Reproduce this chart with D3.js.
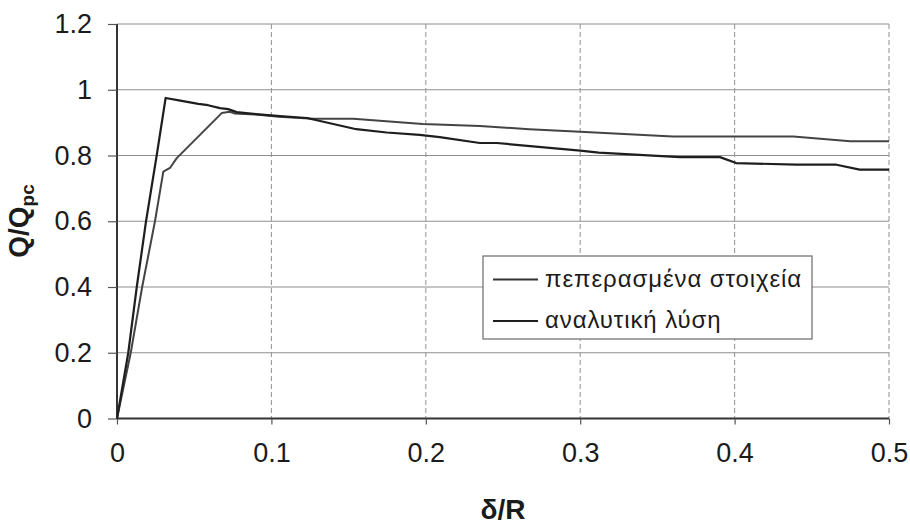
<!DOCTYPE html>
<html>
<head>
<meta charset="utf-8">
<script src="https://cdn.jsdelivr.net/npm/d3@7/dist/d3.min.js"></script>
<style>
  html, body { margin: 0; padding: 0; background: #fff; }
  svg { display: block; }
  text { font-family: "Liberation Sans", Arial, sans-serif; fill: #1b1b1b; }
</style>
</head>
<body>
<svg id="chart" width="910" height="526"></svg>
<script>
// Normalised displacement δ/R and normalised load Q/Qpc
const xTicks = [0, 0.1, 0.2, 0.3, 0.4, 0.5];
const yTicks = [0, 0.2, 0.4, 0.6, 0.8, 1.0, 1.2];
const seriesNames = ["πεπερασμένα στοιχεία", "αναλυτική λύση"];

// finite-element results
const feX = [0, 0.0089, 0.0163, 0.0246, 0.030, 0.0343, 0.0387, 0.0678, 0.073, 0.076, 0.09, 0.105, 0.127, 0.153, 0.198, 0.235, 0.267, 0.300, 0.360, 0.438, 0.475, 0.5];
const feY = [0, 0.2, 0.4, 0.6, 0.751, 0.762, 0.792, 0.929, 0.933, 0.928, 0.925, 0.918, 0.912, 0.912, 0.896, 0.890, 0.880, 0.872, 0.858, 0.858, 0.843, 0.843];

// analytical solution
const anX = [0, 0.0073, 0.0128, 0.0188, 0.0257, 0.0315, 0.041, 0.0527, 0.059, 0.0667, 0.072, 0.0775, 0.09, 0.1055, 0.123, 0.155, 0.1747, 0.196, 0.209, 0.235, 0.246, 0.300, 0.312, 0.3646, 0.3905, 0.401, 0.440, 0.466, 0.481, 0.5];
const anY = [0, 0.2, 0.4, 0.6, 0.8, 0.975, 0.967, 0.957, 0.953, 0.944, 0.941, 0.932, 0.926, 0.920, 0.914, 0.880, 0.870, 0.863, 0.856, 0.838, 0.838, 0.815, 0.809, 0.795, 0.795, 0.777, 0.772, 0.772, 0.757, 0.757];

const svg = d3.select("#chart");
const plotLeft = 117, plotRight = 889, plotTop = 24, plotBottom = 418.5;

const x = d3.scaleLinear().domain([0, 0.5]).range([plotLeft, plotRight]);
const y = d3.scaleLinear().domain([0, 1.2]).range([plotBottom, plotTop]);

// horizontal grid (solid)
svg.append("g")
  .selectAll("line")
  .data(yTicks.filter(d => d > 0))
  .join("line")
  .attr("x1", plotLeft).attr("x2", plotRight)
  .attr("y1", d => y(d)).attr("y2", d => y(d))
  .attr("stroke", "#8e8e8e").attr("stroke-width", 1.2);

// vertical grid (dashed)
svg.append("g")
  .selectAll("line")
  .data(xTicks.filter(d => d > 0))
  .join("line")
  .attr("x1", d => x(d)).attr("x2", d => x(d))
  .attr("y1", plotTop).attr("y2", plotBottom)
  .attr("stroke", "#9a9a9a").attr("stroke-width", 1.1)
  .attr("stroke-dasharray", "5,3");

// axes
const xAxis = d3.axisBottom(x).tickValues(xTicks).tickSize(6).tickPadding(18)
  .tickFormat(d => d === 0 ? "0" : d3.format(".1f")(d));
const yAxis = d3.axisLeft(y).tickValues(yTicks).tickSize(9).tickPadding(16)
  .tickFormat(d => d === 0 ? "0" : (d === 1 ? "1" : d3.format(".1f")(d)));

const gx = svg.append("g").attr("transform", `translate(0,${plotBottom})`).call(xAxis);
const gy = svg.append("g").attr("transform", `translate(${plotLeft},0)`).call(yAxis);
[gx, gy].forEach(g => {
  g.select(".domain").attr("stroke", "#333").attr("stroke-width", 2);
  g.selectAll(".tick line").attr("stroke", "#555").attr("stroke-width", 1.2);
  g.selectAll(".tick text").attr("font-size", 27).attr("fill", "#1b1b1b")
    .attr("font-family", "Liberation Sans, Arial, sans-serif");
});
gy.select(".domain").attr("d", `M0,${plotTop}V${plotBottom}`);
gx.select(".domain").attr("d", `M${plotLeft},0H${plotRight}`);

// series lines
const line = d3.line().x(d => x(d[0])).y(d => y(d[1]));
const feData = feX.map((v, i) => [v, feY[i]]);
const anData = anX.map((v, i) => [v, anY[i]]);

svg.append("path").datum(feData).attr("d", line)
  .attr("fill", "none").attr("stroke", "#444").attr("stroke-width", 2)
  .attr("stroke-linejoin", "round");
svg.append("path").datum(anData).attr("d", line)
  .attr("fill", "none").attr("stroke", "#1e1e1e").attr("stroke-width", 2.2)
  .attr("stroke-linejoin", "round");

// legend
const lg = svg.append("g");
lg.append("rect").attr("x", 483).attr("y", 256).attr("width", 329).attr("height", 83)
  .attr("fill", "#fff").attr("stroke", "#6a6a6a").attr("stroke-width", 1.2);
const legendStroke = ["#333", "#1e1e1e"];
seriesNames.forEach((name, i) => {
  const ly = 279.5 + i * 41.5;
  lg.append("line").attr("x1", 493).attr("x2", 538).attr("y1", ly).attr("y2", ly)
    .attr("stroke", legendStroke[i]).attr("stroke-width", 2);
  lg.append("text").attr("x", 545).attr("y", ly + 7)
    .attr("font-size", 24).attr("letter-spacing", 0.9)
    .attr("font-family", "DejaVu Sans, sans-serif")
    .text(name);
});

// axis titles
svg.append("text").attr("x", 503).attr("y", 519)
  .attr("text-anchor", "middle").attr("font-size", 28).attr("font-weight", "bold")
  .text("δ/R");

const yt = svg.append("text")
  .attr("transform", "translate(28,221) rotate(-90)")
  .attr("text-anchor", "middle").attr("font-size", 28).attr("font-weight", "bold");
yt.append("tspan").text("Q/Q");
yt.append("tspan").attr("font-size", 19).attr("dy", 6).text("pc");
</script>
</body>
</html>
